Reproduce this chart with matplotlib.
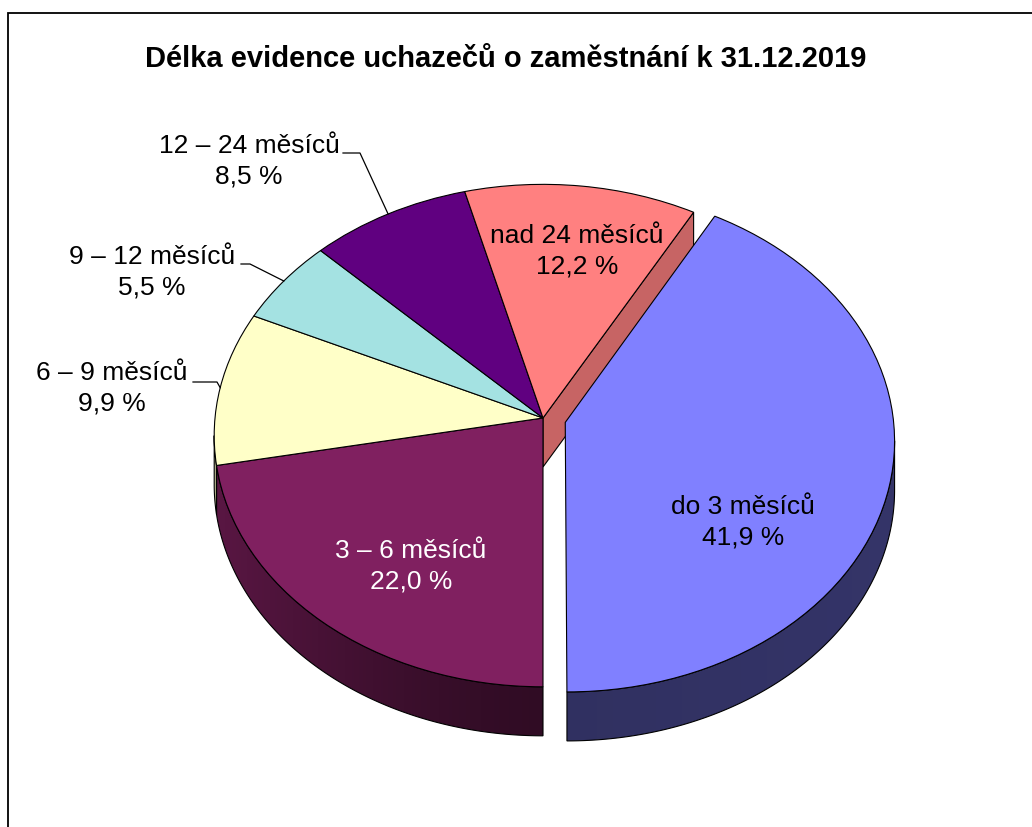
import numpy as np
import matplotlib
matplotlib.use("Agg")
import matplotlib.pyplot as plt
from matplotlib.patches import Polygon, Rectangle
from matplotlib.transforms import Transform
from matplotlib.colors import to_rgb

# Data
categories = ["do 3 měsíců", "3 – 6 měsíců", "6 – 9 měsíců",
              "9 – 12 měsíců", "12 – 24 měsíců", "nad 24 měsíců"]
shares = [41.9, 22.0, 9.9, 5.5, 8.5, 12.2]
colors = ["#8080FF", "#802060", "#FFFFC8", "#A4E2E2", "#600080", "#FF8080"]
explode = [0.07, 0, 0, 0, 0, 0]
title = "Délka evidence uchazečů o zaměstnání k 31.12.2019"

plt.rcParams["font.family"] = ["Liberation Sans", "DejaVu Sans"]

W, H = 1032, 827
# apex of the pie in pixels, radii and perspective factor
CX, CY, RX, RY, K = 543, 418, 328, 250, 0.07
DEPTH = 49


class Perspective(Transform):
    # unit-disc coords (u right, v away from viewer) -> pixel coords
    input_dims = output_dims = 2
    is_separable = False

    def transform_non_affine(self, values):
        values = np.asarray(values, dtype=float)
        u, v = values[:, 0], values[:, 1]
        q = 1 + K * v
        return np.column_stack([CX + RX * u / q, CY - RY * v / q])


persp = Perspective()

fig = plt.figure(figsize=(W / 100, H / 100), dpi=100)
ax = fig.add_axes([0, 0, 1, 1])

start = 270 + 360 * shares[0] / sum(shares)
wedges, _ = ax.pie(shares, colors=colors, explode=explode, startangle=start,
                   counterclock=False, radius=1, center=(0, 0),
                   wedgeprops=dict(edgecolor="black", linewidth=0.8))
for w in wedges:
    w.set_transform(persp + ax.transData)
    w.set_zorder(3)


def rim(w, ang):
    a = np.radians(np.atleast_1d(ang))
    pts = np.column_stack([w.center[0] + np.cos(a), w.center[1] + np.sin(a)])
    return persp.transform(pts)


def shade(x, cx):
    d = (x - cx) / RX
    return np.where(d < 0, 0.38 + 0.32 * np.abs(np.minimum(d, 0)) ** 1.5,
                    0.38 + 0.03 * d)


# silhouette angles of the projected rim (left and right extremes)
grid = np.linspace(-180, 180, 3601)
gx = np.cos(np.radians(grid)) / (1 + K * np.sin(np.radians(grid)))
t_left = grid[np.argmin(gx)] % 360
t_right = grid[np.argmax(gx)] % 360

# Side walls of the pie
for w, col in zip(wedges, colors):
    ts = np.linspace(w.theta1, w.theta2, 400)
    a = ts % 360
    ts = ts[(a >= t_left) & (a <= t_right)]
    if len(ts) < 2:
        continue
    top = rim(w, ts)
    outline = np.vstack([top, top[::-1] + [0, DEPTH]])
    poly = Polygon(outline, closed=True, facecolor="none", edgecolor="black",
                   linewidth=0.8, zorder=2.5, transform=ax.transData)
    ax.add_patch(poly)
    cx = persp.transform([w.center])[0, 0]
    x0, x1 = outline[:, 0].min(), outline[:, 0].max()
    y0, y1 = outline[:, 1].min(), outline[:, 1].max()
    xs = np.linspace(x0, x1, 200)
    grad = shade(xs, cx)[None, :, None] * np.array(to_rgb(col))[None, None, :]
    im = ax.imshow(np.clip(grad, 0, 1), extent=(x0, x1, y1, y0),
                   origin="upper", aspect="auto", interpolation="bilinear",
                   zorder=2)
    im.set_clip_path(poly)

# Cut faces exposed by the exploded slice
n = len(wedges)
for i, w in enumerate(wedges):
    base = np.array(to_rgb(colors[i]))
    # counterclock=False: theta1 borders the next slice, theta2 the previous
    for edge, nb, sign in ((w.theta1, (i + 1) % n, 1), (w.theta2, (i - 1) % n, -1)):
        if not (explode[i] or explode[nb]):
            continue
        if sign * np.cos(np.radians(edge)) <= 1e-6:
            continue
        apex = persp.transform([w.center])[0]
        r = rim(w, edge)[0]
        face = [apex, r, r + [0, DEPTH], apex + [0, DEPTH]]
        ax.add_patch(Polygon(face, closed=True, facecolor=base * 0.78,
                             edgecolor="black", linewidth=0.8, zorder=1.5))

ax.set_xlim(0, W)
ax.set_ylim(H, 0)
ax.axis("off")


def label(i):
    return f"{categories[i]}\n{shares[i]:.1f} %".replace(".", ",")


fs = 19
# Labels inside the slices
inside = {0: ((743, 522), "black"), 1: ((411, 566), "white"),
          5: ((577, 251), "black")}
for i, (pos, tc) in inside.items():
    ax.text(*pos, label(i), ha="center", va="center", fontsize=fs, color=tc,
            linespacing=1.35, zorder=5)

# Labels outside with leader lines
outside = {4: ((249, 161), (360, 153), (343, 153)),
           3: ((152, 272), (250, 264), (241, 264)),
           2: ((112, 388), (217, 382), (193, 382))}
for i, (pos, elbow, end) in outside.items():
    w = wedges[i]
    r = rim(w, (w.theta1 + w.theta2) / 2)[0]
    ax.plot([r[0], elbow[0], end[0]], [r[1], elbow[1], end[1]],
            color="black", linewidth=0.9, zorder=4)
    ax.text(*pos, label(i), ha="center", va="center", fontsize=fs,
            color="black", linespacing=1.35, zorder=5)

ax.text(506, 67, title, ha="center", va="baseline", fontsize=21,
        fontweight="bold")

# Chart area border (only top and left edges fall inside the picture)
fig.patches.append(Rectangle((8 / W, -0.1), 1.2, 1 - 13 / H + 0.1,
                             transform=fig.transFigure, fill=False,
                             edgecolor="black", linewidth=1.3))

fig.savefig("out.png", dpi=100)
